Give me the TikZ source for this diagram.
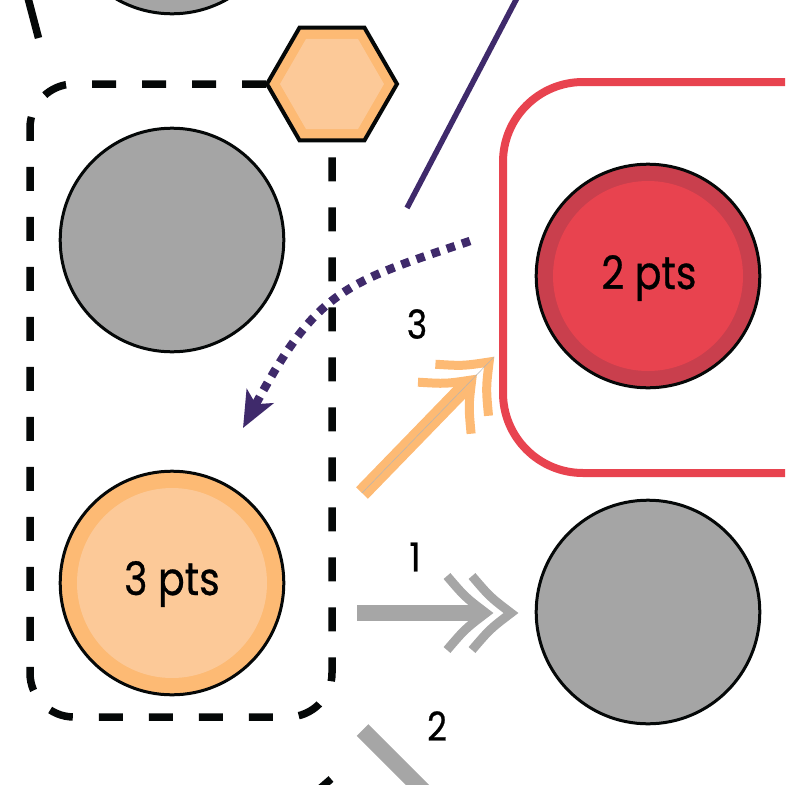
\documentclass[tikz,border=0pt]{standalone}
\usepackage{fontspec}
\newfontfamily\labfont[FakeStretch=0.86,FakeBold=0.6]{Poppins}
\usetikzlibrary{arrows.meta,calc}
\definecolor{inkblack}{HTML}{050808}
\definecolor{gfill}{HTML}{A5A5A5}
\definecolor{oring}{HTML}{FDBA74}
\definecolor{ocore}{HTML}{FCC998}
\definecolor{rring}{HTML}{C93F4D}
\definecolor{rcore}{HTML}{E8434F}
\definecolor{pline}{HTML}{3F2A6B}
\definecolor{garrow}{HTML}{A6A6A6}
\definecolor{thingray}{HTML}{B4B4B4}
\newcommand\dblbarb[3]{%
  \begin{scope}[shift={#1},rotate=#2]
    \draw[draw=#3, line width=9pt, line cap=butt, line join=miter, miter limit=10]
      (-46,37) .. controls (-28,16) .. (-7,0) .. controls (-28,-16) .. (-46,-37);
    \draw[draw=#3, line width=9pt, line cap=butt, line join=miter, miter limit=10]
      (-71,37) .. controls (-53,16) .. (-32,0) .. controls (-53,-16) .. (-71,-37);
  \end{scope}}
\begin{document}
\begin{tikzpicture}[x=1pt,y=-1pt,
  blackline/.style={draw=inkblack, line width=7.5pt, line cap=butt},
  dashbox/.style={blackline, dash pattern=on 24pt off 26pt, dash phase=28pt, rounded corners=44pt},
  disc/.style={circle, draw=inkblack, line width=3pt, minimum size=223.6pt, inner sep=0pt},
  core/.style={circle, minimum size=190pt, inner sep=0pt, draw=none},
  ptlabel/.style={font=\labfont\fontsize{46}{50}\selectfont, inner sep=0pt, anchor=base},
  numlabel/.style={font=\labfont\fontsize{40}{44}\selectfont, inner sep=0pt},
  shaft/.style={line width=16.5pt, line cap=butt},
  redbox/.style={draw=rcore, line width=8pt, rounded corners=80pt},
  purpleline/.style={draw=pline, line width=5.5pt},
  purpledots/.style={draw=pline, line width=8.5pt, dash pattern=on 8.5pt off 7.5pt,
    -{Stealth[length=36pt,width=30pt,inset=9pt,fill=pline]}}
]
\useasboundingbox (0,0) rectangle (785,785);
\clip (0,0) rectangle (785,785);

% top-left fragments
\node[disc, fill=gfill] (g0) at (172,-98) {};
\coordinate (tl1) at (28,-2);
\coordinate (tl2) at (38.5,38);
\draw[blackline] (tl1) -- (tl2);

% dashed group box
\draw[dashbox] (288,84) -- (30,84) -- (30,717) -- (332,717) -- (332,128);

% bottom fragment
\coordinate (bf1) at (316,792);
\coordinate (bf2) at (331,779);
\draw[blackline] (bf1) -- (bf2);

% hexagon
\coordinate (hx) at (332,84);
\filldraw[fill=oring, draw=inkblack, line width=4pt, line join=miter]
  (hx) +(0:65) -- +(60:65) -- +(120:65) -- +(180:65) -- +(240:65) -- +(300:65) -- cycle;
\fill[ocore] (hx) +(0:52) -- +(60:52) -- +(120:52) -- +(180:52) -- +(240:52) -- +(300:52) -- cycle;

% circles in the dashed box
\node[disc, fill=gfill] (g1) at (172,240) {};
\node[disc, fill=oring] (o1) at (172,583) {};
\node[core, fill=ocore] (o1c) at (o1) {};
\node[ptlabel] (o1t) at (172,595) {3 pts};

% red box and circle
\draw[redbox] (810,82) -- (503,82) -- (503,473) -- (810,473);
\node[disc, fill=rring] (r1) at (648,276) {};
\node[core, fill=rcore] (r1c) at (r1) {};
\node[ptlabel] (r1t) at (649,289) {2 pts};

% gray circle right
\node[disc, fill=gfill] (g2) at (648,612) {};

% purple straight line
\coordinate (pl1) at (517,-2);
\coordinate (pl2) at (407,208);
\draw[purpleline] (pl1) -- (pl2);

% purple dotted arrow
\coordinate (ps) at (470,241);
\coordinate (pt) at (243,428);
\draw[purpledots] (ps) .. controls (346,283) and (318,288) .. (pt);

% orange arrow 3
\coordinate (a3s) at (362,493);
\coordinate (a3t) at (494,357);
\draw[shaft, draw=oring] (a3s) -- ($(a3t)!38pt!(a3s)$);
\dblbarb{(a3t)}{45.85}{oring}
\draw[draw=thingray, line width=0.5pt] (a3s) -- (a3t);
\node[numlabel] (l3) at (417,324) {3};

% gray arrow 1
\coordinate (a1s) at (357,613);
\coordinate (a1t) at (518,613);
\draw[shaft, draw=garrow] (a1s) -- ($(a1t)!38pt!(a1s)$);
\dblbarb{(a1t)}{0}{garrow}
\node[numlabel] (l1) at (415,557) {1};

% gray arrow 2
\coordinate (a2s) at (362.5,730);
\coordinate (a2t) at (496.5,864);
\draw[shaft, draw=garrow] (a2s) -- ($(a2t)!38pt!(a2s)$);
\dblbarb{(a2t)}{-45}{garrow}
\node[numlabel] (l2) at (437,726) {2};
\end{tikzpicture}
\end{document}
